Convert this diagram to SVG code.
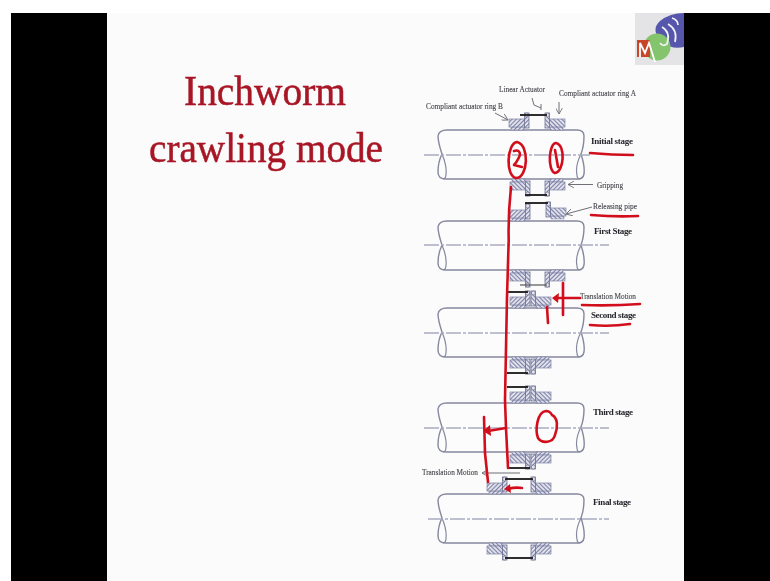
<svg xmlns="http://www.w3.org/2000/svg" width="770" height="581" viewBox="0 0 770 581">
<style>
.cap{font-family:"Liberation Serif",serif;font-size:8px;fill:#45454c;stroke:#45454c;stroke-width:.12}
.st{font-family:"Liberation Serif",serif;font-size:9px;font-weight:bold;fill:#26262c}
.title{font-family:"Liberation Serif",serif;font-size:43px;fill:#a81626;stroke:#a81626;stroke-width:.5}
.pipe{fill:#fcfcfd;stroke:#85889f;stroke-width:1.4}
.pipe2{fill:none;stroke:#85889f;stroke-width:1.2}
.cl{stroke:#a9abc0;stroke-width:1.3;stroke-dasharray:15 2 3 2;fill:none}
.act{stroke:#222;stroke-width:1.9;fill:none}
.lead{stroke:#6f6f77;stroke-width:1;fill:none}
.ink{stroke:#d2101c;stroke-width:2.6;fill:none;stroke-linecap:round;stroke-linejoin:round}
.inkf{fill:#d2101c}
.soft{filter:url(#soft)}
</style>
<defs>
<filter id="soft" x="-5%" y="-5%" width="110%" height="110%"><feGaussianBlur stdDeviation="0.4"/></filter>
<pattern id="h" width="3" height="3" patternUnits="userSpaceOnUse" patternTransform="rotate(45)">
<rect width="3" height="3" fill="#e9eaf2"/><rect width="1.2" height="3" fill="#7c80a4"/>
</pattern>
<g id="pipe">
<path class="pipe" d="M9,0H139Q146,0 146,6Q146,16 143,24Q147,36 146,44Q145,49 140,49H8Q0,49 0,42Q0,32 4,24Q0,12 0,6Q1,0 9,0Z"/>
<path class="pipe2" d="M4,24Q9,36 8,44Q8,49 5,49M143,24Q137,36 139,45Q139,49 142,49"/>
</g>
<g id="ring">
<rect x="2" y="-3" width="13" height="3" fill="url(#h)" stroke="#7c80a4" stroke-width=".5"/>
<rect x="0" y="-11" width="16" height="8" fill="url(#h)" stroke="#7c80a4" stroke-width=".7"/>
<rect x="15.500" y="-17" width="4.500" height="15" fill="url(#h)" stroke="#6d7090" stroke-width=".8"/>
<circle cx="17.700" cy="-15" r="2" fill="#e4e5ee" stroke="#6d7090" stroke-width=".7"/>
</g>
<marker id="a" viewBox="0 0 8 8" refX="7" refY="4" markerWidth="7" markerHeight="7" orient="auto" markerUnits="userSpaceOnUse"><path d="M0,0L7,4L0,8" fill="none" stroke="#6f6f77" stroke-width="1"/></marker>
</defs>

<rect width="770" height="581" fill="#fff"/>
<rect x="11" y="13" width="759" height="568" fill="#000"/>
<rect x="107" y="13" width="577" height="568" fill="#fbfbfb"/>

<g id="logo" class="soft">
<rect x="635" y="13" width="49" height="52" fill="#e4e4e6"/>
<path d="M684,13V47Q672,50 662,42Q650,30 660,21Q670,13 684,13Z" fill="#5557ac"/>
<circle cx="657" cy="47" r="13.500" fill="#84c46c"/>
<path d="M637,40H650V57H637Z" fill="#c9452c"/>
<path d="M640,57V43L645,53L649,43L655,62" fill="none" stroke="#fff" stroke-width="1.8"/>
<path d="M662,27Q671,32 667,44Q663,47 660,43M668,24Q678,30 675,42M672,18Q678,20 678,25" fill="none" stroke="#f2f2f8" stroke-width="1.7"/>
</g>

<g id="title" class="soft">
<text class="title" x="184" y="105" textLength="162" lengthAdjust="spacingAndGlyphs">Inchworm</text>
<text class="title" x="149" y="162" textLength="234" lengthAdjust="spacingAndGlyphs">crawling mode</text>
</g>

<g class="soft">
<g id="stage-initial">
<use href="#pipe" x="438" y="130"/>
<path class="cl" d="M424,155H590"/>
<use href="#ring" transform="translate(509,130)"/>
<use href="#ring" transform="translate(565,130) scale(-1,1)"/>
<path class="act" d="M520,115H547"/>
<use href="#ring" transform="translate(510,179) scale(1,-1)"/>
<use href="#ring" transform="translate(565,179) scale(-1,-1)"/>
<path class="act" d="M525,195H547"/>
<text class="st" x="591" y="144" textLength="42">Initial stage</text>
</g>

<g id="stage-first">
<use href="#pipe" x="438" y="221"/>
<path class="cl" d="M424,245H609"/>
<use href="#ring" transform="translate(510,221)"/>
<use href="#ring" transform="translate(566,219) scale(-1,1)"/>
<path class="act" d="M525,203H548"/>
<use href="#ring" transform="translate(510,270) scale(1,-1)"/>
<use href="#ring" transform="translate(565,270) scale(-1,-1)"/>
<path class="act" style="stroke:#555;stroke-width:1.2" d="M520,285H547"/>
<text class="st" x="594" y="234" textLength="38">First Stage</text>
</g>

<g id="stage-second">
<use href="#pipe" x="438" y="308"/>
<path class="cl" d="M424,333H609"/>
<use href="#ring" transform="translate(510,308)"/>
<use href="#ring" transform="translate(551,308) scale(-1,1)"/>
<path class="act" d="M507,292H528"/>
<use href="#ring" transform="translate(510,357) scale(1,-1)"/>
<use href="#ring" transform="translate(551,357) scale(-1,-1)"/>
<path class="act" d="M507,373H528"/>
<text class="st" x="591" y="318" textLength="45">Second stage</text>
</g>

<g id="stage-third">
<use href="#pipe" x="438" y="403"/>
<path class="cl" d="M424,428H609"/>
<use href="#ring" transform="translate(510,403)"/>
<use href="#ring" transform="translate(551,403) scale(-1,1)"/>
<path class="act" d="M507,387H528"/>
<use href="#ring" transform="translate(510,452) scale(1,-1)"/>
<use href="#ring" transform="translate(551,452) scale(-1,-1)"/>
<path class="act" d="M507,468H530"/>
<text class="st" x="593" y="415" textLength="40">Third stage</text>
</g>

<g id="stage-final">
<use href="#pipe" x="438" y="494"/>
<path class="cl" d="M428,519H609"/>
<use href="#ring" transform="translate(487,494)"/>
<use href="#ring" transform="translate(551,494) scale(-1,1)"/>
<path class="act" d="M505,479H533"/>
<use href="#ring" transform="translate(487,543) scale(1,-1)"/>
<use href="#ring" transform="translate(551,543) scale(-1,-1)"/>
<path class="act" d="M505,558H533"/>
<text class="st" x="593" y="505" textLength="38">Final stage</text>
</g>

<g id="connectors">
<path class="lead" d="M532,98L534,105L541,108M541,104L541,110"/>
<path class="lead" marker-end="url(#a)" d="M559,102V114"/>
<path class="lead" marker-end="url(#a)" d="M495,113L508,120"/>
<path class="lead" marker-end="url(#a)" d="M593,184.500H568"/>
<path class="lead" marker-end="url(#a)" d="M592,207L566,214"/>
<path class="lead" marker-end="url(#a)" d="M520,473H482"/>
</g>

<g id="labels">
<text class="cap" x="499" y="92" textLength="46" lengthAdjust="spacingAndGlyphs">Linear Actuator</text>
<text class="cap" x="559" y="96" textLength="77" lengthAdjust="spacingAndGlyphs">Compliant actuator ring A</text>
<text class="cap" x="426" y="109" textLength="77" lengthAdjust="spacingAndGlyphs">Compliant actuator ring B</text>
<text class="cap" x="597" y="188" textLength="26" lengthAdjust="spacingAndGlyphs">Gripping</text>
<text class="cap" x="593" y="209" textLength="44" lengthAdjust="spacingAndGlyphs">Releasing pipe</text>
<text class="cap" x="580" y="299" textLength="56" lengthAdjust="spacingAndGlyphs">Translation Motion</text>
<text class="cap" x="422" y="475" textLength="56" lengthAdjust="spacingAndGlyphs">Translation Motion</text>
</g>
</g>

<g id="annotations" class="soft">
<path class="ink" d="M511,187Q508,215 508.700,240L507,297L505,400L506,428L508,468"/>
<path class="ink" d="M517,142C507,143 505,176 516,178C528,178 530,145 517,142ZM514,151Q520,149 520,155Q517,162 514,165L522,167"/>
<path class="ink" d="M556,143C549,143 547,170 555,173C564,172 566,145 556,143ZM555,150L558,167"/>
<path class="ink" d="M590,153Q612,155 633,155M591,215Q615,217 638,216M582,305Q612,306 640,304M590,325Q610,327 630,324"/>
<path class="ink" d="M580,298H556M563,283V315M547,307L548,323"/>
<path class="inkf" d="M552,298L559,293L558,303Z"/>
<path class="ink" d="M546,411C537,412 535,430 538,438C542,444 553,443 555,435C558,427 558,418 552,415Q550,411 546,411Z"/>
<path class="ink" d="M484,417L485,453L488,482M506,428L488,431"/>
<path class="inkf" d="M483,431L490,425L491,436Z"/>
<path class="ink" d="M522,488Q515,487 508,489"/>
<path class="inkf" d="M504,489L510,484L511,493Z"/>
</g>
</svg>
